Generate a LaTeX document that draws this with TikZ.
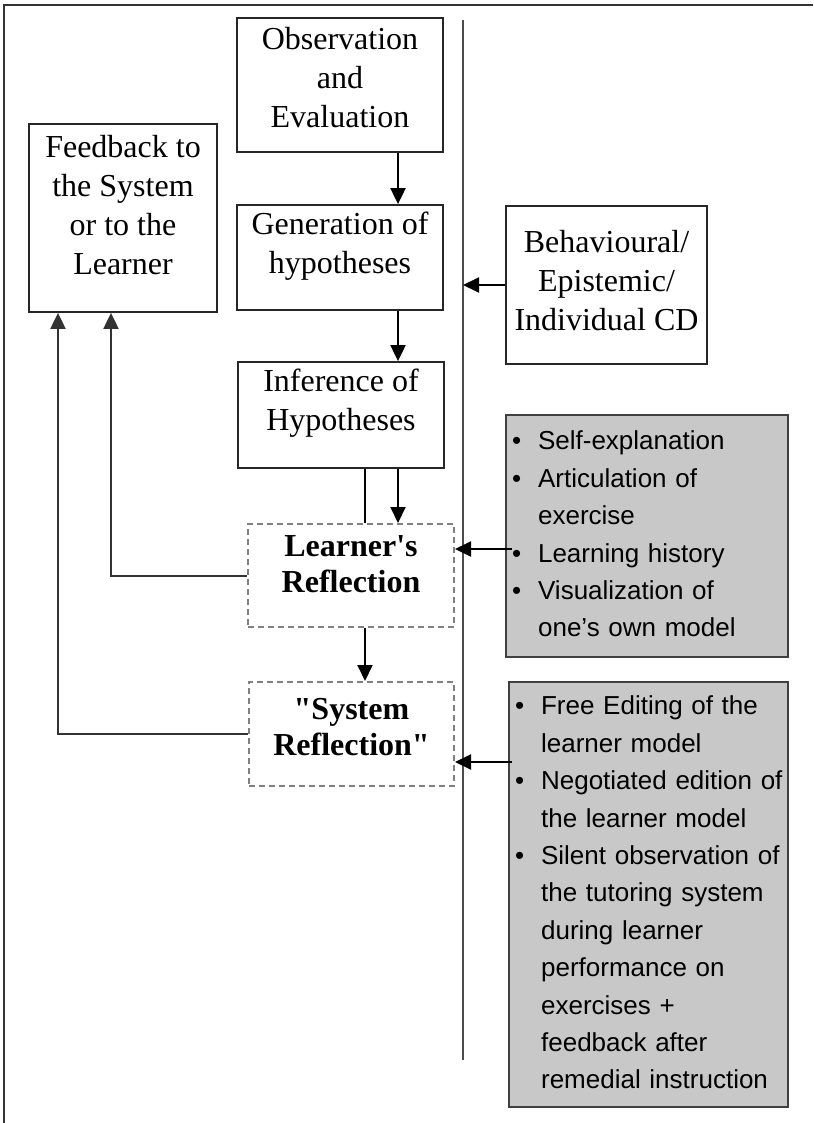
\documentclass[tikz,border=0pt]{standalone}
\usepackage{fontspec}
\setmainfont{Liberation Serif}[Ligatures=TeXOff]
\setsansfont{Liberation Sans}
\usetikzlibrary{arrows.meta, calc}
\definecolor{panelgray}{HTML}{C8C8C8}
\definecolor{framegray}{HTML}{333333}

\begin{document}
\begin{tikzpicture}[
        x=0.5pt, y=-0.5pt,
        >={Triangle[length=8pt,width=7.5pt]},
        box/.style={rectangle, draw=black!85, line width=0.9pt, fill=white, align=center, inner sep=0pt, font=\fontsize{16}{19.5}\selectfont},
        refl/.style={rectangle, draw=black!50, line width=1pt, dash pattern=on 3pt off 2pt, align=center, inner sep=0pt, font=\bfseries\fontsize{16}{18}\selectfont},
        panel/.style={rectangle, draw=black!75, line width=0.9pt, fill=panelgray, align=left, inner xsep=3pt, font=\sffamily\fontsize{13}{18.7}\selectfont},
        arr/.style={->, line width=1pt},
        link/.style={->, line width=1pt, draw=black!80},
        axis/.style={line width=0.8pt, draw=black!70}
    ]
    \useasboundingbox (0,0) rectangle (813,1123);

    % --- Frame ---
    \draw[line width=1pt, framegray] (4,1123) -- (4,5) -- (813,5);

    % --- Main column ---
    \node (obs) [box, minimum width=103pt, minimum height=67pt, text depth=8pt] at (340,85) {Observation\\and\\Evaluation};
    \node (hypgen) [box, minimum width=103pt, minimum height=52.5pt, text depth=15pt] at (340,257.5) {Generation of\\hypotheses};
    \node (hypinf) [box, minimum width=103pt, minimum height=53pt, text depth=15pt] at (341,415) {Inference of\\Hypotheses};
    \node (lrefl) [refl, minimum width=103pt, minimum height=51.5pt, text depth=11pt] at (351,575.5) {Learner's\\Reflection};
    \node (srefl) [refl, minimum width=102.5pt, minimum height=52pt, text depth=7pt] at (351.5,734) {"System\\Reflection"};

    % --- Feedback (left) ---
    \node (fback) [box, minimum width=94pt, minimum height=94pt, text depth=13pt] at (123,218) {Feedback to\\the System\\or to the\\Learner};

    % --- Separator ---
    \coordinate (axtop) at (463,20);
    \coordinate (axbot) at (463,1060);
    \draw[axis] (axtop) -- (axbot);

    % --- Right column ---
    \node (behav) [box, minimum width=100.5pt, minimum height=79pt, text depth=5pt] at (606.5,285) {Behavioural/\\Epistemic/\\Individual CD};
    \node (lacts) [panel, minimum width=141pt, minimum height=121pt, text width=135pt] at (647,536) {%
        \begin{tabular}{@{}c@{\hspace{8.5pt}}l@{}}
            \textbullet & Self-explanation\\
            \textbullet & Articulation of\\
                        & exercise\\
            \textbullet & Learning history\\
            \textbullet & Visualization of\\
                        & one’s own model
        \end{tabular}};
    \node (sacts) [panel, minimum width=139.5pt, minimum height=211.5pt, text width=133.5pt] at (648.5,894.5) {%
        \begin{tabular}{@{}c@{\hspace{8.5pt}}l@{}}
            \textbullet & Free Editing of the\\
                        & learner model\\
            \textbullet & Negotiated edition of\\
                        & the learner model\\
            \textbullet & Silent observation of\\
                        & the tutoring system\\
                        & during learner\\
                        & performance on\\
                        & exercises +\\
                        & feedback after\\
                        & remedial instruction
        \end{tabular}};

    % --- Flow down the column ---
    \coordinate (colA) at (398,0);
    \coordinate (colB) at (365,0);
    \draw[arr] (obs.south -| colA) -- (hypgen.north -| colA);
    \draw[arr] (hypgen.south -| colA) -- (hypinf.north -| colA);
    \draw[arr] (hypinf.south -| colA) -- (lrefl.north -| colA);
    \draw[line width=1pt] (hypinf.south -| colB) -- (lrefl.north -| colB);
    \draw[arr] (lrefl.south -| colB) -- (srefl.north -| colB);

    % --- Inputs from the right ---
    \draw[arr] (behav.west) -- (behav.west -| axtop);
    \draw[arr] ($(lacts.west)+(7,13)$) coordinate (lin) -- (lin -| lrefl.east);
    \draw[arr] ($(sacts.west)+(4,-132.5)$) coordinate (sin) -- (sin -| srefl.east);

    % --- Back to feedback ---
    \coordinate (colC) at (111,0);
    \coordinate (colD) at (58,0);
    \draw[link] (lrefl.west) -| (fback.south -| colC);
    \draw[link] (srefl.west) -| (fback.south -| colD);

\end{tikzpicture}
\end{document}
